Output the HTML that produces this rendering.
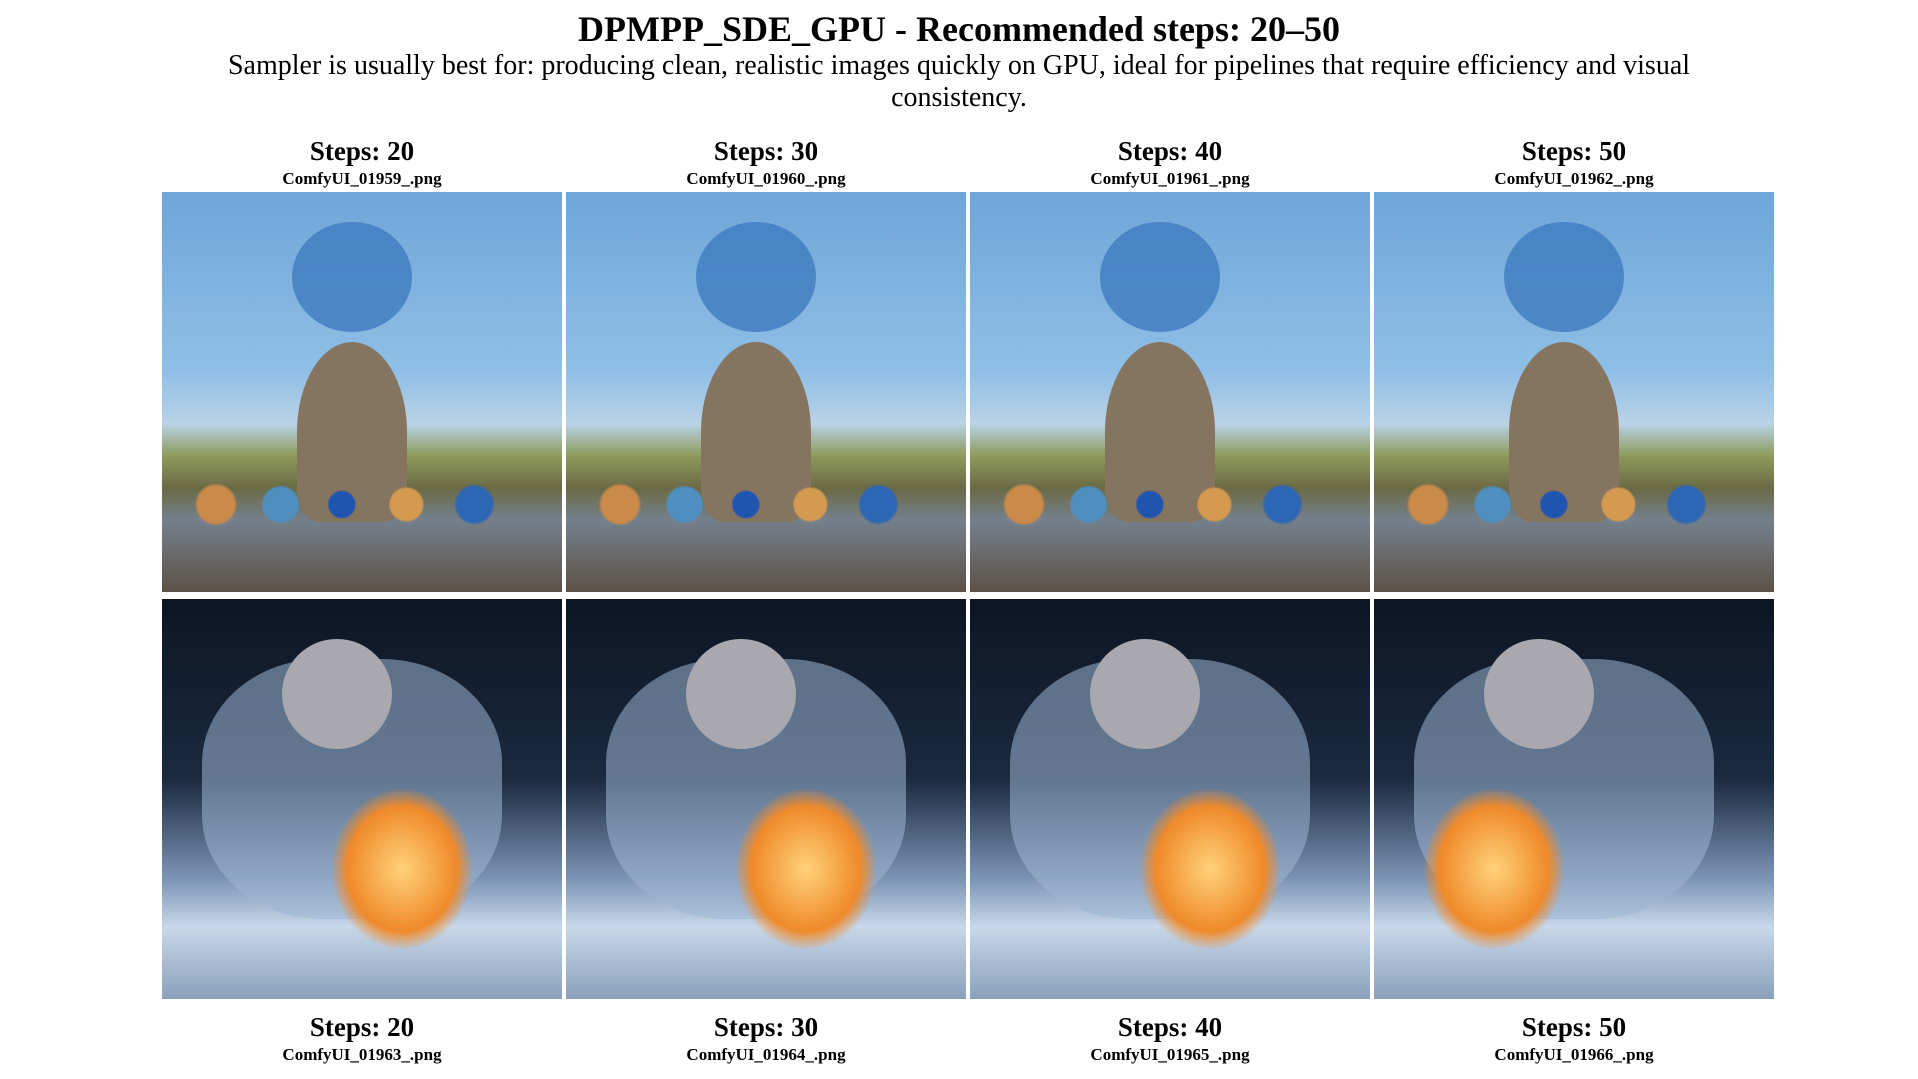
<!DOCTYPE html>
<html><head><meta charset="utf-8"><style>
body{margin:0;width:1918px;height:1079px;background:#fff;font-family:"Liberation Serif",serif;position:relative;overflow:hidden}
.t{position:absolute;left:0;width:1918px;text-align:center;color:#000}
.lab{position:absolute;width:400px;text-align:center;font-weight:bold}
.s{font-size:27px;line-height:30px}
.f{font-size:17px;line-height:20px;margin-top:3px}
.img{position:absolute;width:400px;height:400px;overflow:hidden}
.top{background:linear-gradient(#6ea6d8 0%,#8fbfe6 45%,#b9d3e6 58%,#8d9a5a 66%,#6b6a45 74%,#74808c 82%,#5d5147 100%)}
.bot{background:linear-gradient(#0d1523 0%,#1a2a40 45%,#7c94b4 70%,#c8d8ea 82%,#8aa0bb 100%)}
</style></head><body>
<div class="t" style="top:9px;font-size:36px;font-weight:bold;line-height:40px">DPMPP_SDE_GPU - Recommended steps: 20–50</div>
<div class="t" style="top:50px;font-size:28px;line-height:32px;padding:0 200px;box-sizing:border-box">Sampler is usually best for: producing clean, realistic images quickly on GPU, ideal for pipelines that require efficiency and visual consistency.</div>
<div id="grid"></div>
<script>
const steps=[20,30,40,50];
const files=["ComfyUI_01959_.png","ComfyUI_01960_.png","ComfyUI_01961_.png","ComfyUI_01962_.png","ComfyUI_01963_.png","ComfyUI_01964_.png","ComfyUI_01965_.png","ComfyUI_01966_.png"];
const g=document.getElementById('grid');
function add(html){const d=document.createElement('div');d.innerHTML=html;const e=d.firstChild;g.appendChild(e);return e;}
for(let r=0;r<2;r++){for(let c=0;c<4;c++){
const x=162+c*404, iy=r?599:192;
const ly=r?1012:136;
const l=add('<div class="lab"></div>');


l.style.left=x+'px';l.style.top=ly+'px';
l.innerHTML='<div class="s">Steps: '+steps[c]+'</div><div class="f">'+files[r*4+c]+'</div>';
const im=add('<div class="img '+(r?'bot':'top')+'"></div>');


im.style.left=x+'px';im.style.top=iy+'px';
if(!r){
 im.innerHTML='<div style="position:absolute;left:135px;top:150px;width:110px;height:180px;border-radius:50% 50% 20% 20%;background:#857460"></div><div style="position:absolute;left:130px;top:30px;width:120px;height:110px;border-radius:50%;background:#3f7bc0;opacity:.8"></div><div style="position:absolute;left:20px;top:290px;width:340px;height:45px;background:radial-gradient(circle at 10% 50%,#c98a4a 6%,transparent 7%),radial-gradient(circle at 29% 50%,#4f8fc0 7%,transparent 8%),radial-gradient(circle at 47% 50%,#1f55b0 7%,transparent 8%),radial-gradient(circle at 66% 50%,#d49a50 7%,transparent 8%),radial-gradient(circle at 86% 50%,#2c66b5 6%,transparent 7%)"></div>';
}else{
 const fx=c==3?50:170;
 im.innerHTML='<div style="position:absolute;left:40px;top:60px;width:300px;height:260px;border-radius:40%;background:#9fb6d4;opacity:.55"></div><div style="position:absolute;left:'+(c==3?110:120)+'px;top:40px;width:110px;height:110px;border-radius:50%;background:#a8a8ae"></div><div style="position:absolute;left:'+fx+'px;top:190px;width:140px;height:160px;border-radius:50%;background:radial-gradient(#ffd27a,#f08a2a 55%,rgba(200,60,10,0) 72%)"></div>';
}
}}
</script>
</body></html>
